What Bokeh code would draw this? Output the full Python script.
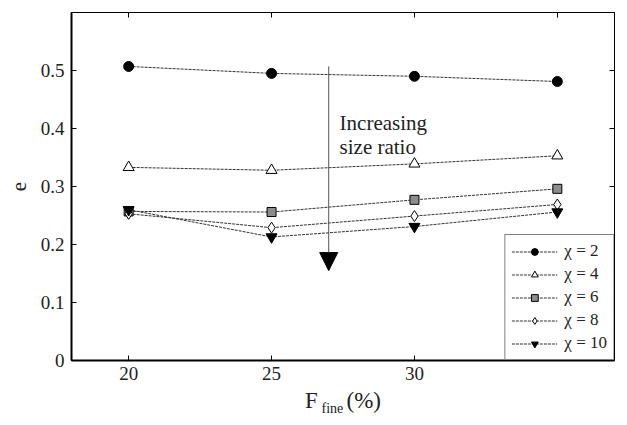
from bokeh.plotting import figure
from bokeh.models import (LinearAxis, FixedTicker, Legend, LegendItem, Label,
                          Arrow, NormalHead, Title)
from bokeh.embed import file_html
from bokeh.resources import INLINE

# ---- data ----
F_fine = [20, 25, 30, 35]
e_chi2 = [0.507, 0.495, 0.490, 0.481]
e_chi4 = [0.333, 0.328, 0.339, 0.353]
e_chi6 = [0.257, 0.256, 0.277, 0.296]
e_chi8 = [0.253, 0.229, 0.249, 0.269]
e_chi10 = [0.260, 0.213, 0.231, 0.256]
series_labels = ["χ = 2", "χ = 4", "χ = 6", "χ = 8", "χ = 10"]
x_ticks = [20, 25, 30, 35]
x_tick_labels = ["20", "25", "30", ""]   # "35" is hidden behind the legend
y_ticks = [0, 0.1, 0.2, 0.3, 0.4, 0.5]
y_tick_labels = ["0", "0.1", "0.2", "0.3", "0.4", "0.5"]
x_label_main = "F\u00a0\u00a0\u00a0\u00a0\u00a0(%)"
x_label_sub = "fine"
y_label = "e"
arrow_x = 27
arrow_y_start = 0.507
arrow_y_end = 0.155
annot_lines = ["Increasing", "size ratio"]

SERIF = "Liberation Serif"
TXT = "#222222"

p = figure(width=619, height=417, x_range=(18, 37), y_range=(0, 0.6),
           output_backend="svg", toolbar_location=None,
           min_border_left=71, min_border_right=5, min_border_top=12,
           min_border_bottom=57)
p.xgrid.visible = False
p.ygrid.visible = False
p.outline_line_color = "black"
p.outline_line_width = 1
p.background_fill_color = "white"
p.border_fill_color = "white"

def style_axis(ax, ticks, width, labels=None):
    ax.ticker = FixedTicker(ticks=ticks)
    ax.major_tick_in = 5
    ax.major_tick_out = 0
    ax.minor_tick_in = 0
    ax.minor_tick_out = 0
    ax.axis_line_color = "black"
    ax.axis_line_width = width
    ax.major_tick_line_color = "black"
    ax.major_label_text_font = SERIF
    ax.major_label_text_color = TXT
    ax.major_label_text_font_size = "19px"
    if labels is None:
        labels = [""] * len(ticks)
        ax.major_label_standoff = 0
    ax.major_label_overrides = {t: l for t, l in zip(ticks, labels)}

style_axis(p.xaxis[0], x_ticks, 2, x_tick_labels)
p.xaxis[0].major_label_standoff = 6
p.xaxis[0].axis_label = x_label_main
p.xaxis[0].axis_label_text_font = SERIF
p.xaxis[0].axis_label_text_font_style = "normal"
p.xaxis[0].axis_label_text_font_size = "23px"
p.xaxis[0].axis_label_text_color = TXT
p.xaxis[0].axis_label_standoff = 5

style_axis(p.yaxis[0], y_ticks, 2, y_tick_labels)
p.yaxis[0].major_label_standoff = 7
p.yaxis[0].axis_label = y_label
p.yaxis[0].axis_label_text_font = SERIF
p.yaxis[0].axis_label_text_font_style = "normal"
p.yaxis[0].axis_label_text_font_size = "21px"
p.yaxis[0].axis_label_text_color = TXT
p.yaxis[0].axis_label_standoff = 12

top_ax = LinearAxis()
style_axis(top_ax, x_ticks, 1)
p.add_layout(top_ax, "above")
right_ax = LinearAxis()
style_axis(right_ax, y_ticks, 1)
p.add_layout(right_ax, "right")

# subscript of the x-axis label (negative standoff pulls it up beside "F")
sub = Title(text=x_label_sub, align="left", vertical_align="top", offset=250,
            standoff=-30, text_font=SERIF, text_font_size="14px",
            text_font_style="normal", text_color=TXT)
p.add_layout(sub, "below")

line_kw = dict(line_color="#333333", line_width=1, line_dash="3 1")
series = [
    (e_chi2, dict(marker="circle", size=10, fill_color="black", line_color="black")),
    (e_chi4, dict(marker="triangle", size=11, fill_color="white", line_color="black")),
    (e_chi6, dict(marker="square", size=9, fill_color="#8c8c8c", line_color="black")),
    (e_chi8, dict(marker="diamond", size=11, fill_color="white", line_color="black")),
    (e_chi10, dict(marker="inverted_triangle", size=11, fill_color="black", line_color="black")),
]
items = []
for (vals, mk), lab in zip(series, series_labels):
    l = p.line(F_fine, vals, **line_kw)
    s = p.scatter(F_fine, vals, line_width=1, **mk)
    items.append(LegendItem(label=lab, renderers=[l, s]))

legend = Legend(items=items, location="bottom_right")
legend.label_text_font = SERIF
legend.label_text_font_size = "17px"
legend.label_text_color = TXT
legend.glyph_width = 46
legend.glyph_height = 17
legend.label_height = 17
legend.label_standoff = 7
legend.spacing = 3
legend.padding = 6
legend.margin = 0
legend.border_line_color = "black"
legend.border_line_width = 1.5
legend.background_fill_color = "white"
legend.background_fill_alpha = 1
p.add_layout(legend, "center")

arrow = Arrow(end=NormalHead(size=18, fill_color="black", line_color="black"),
              x_start=arrow_x, y_start=arrow_y_start, x_end=arrow_x, y_end=arrow_y_end,
              line_color="#555555", line_width=1)
p.add_layout(arrow)

p.add_layout(Label(x=27.38, y=0.409, text=annot_lines[0], text_font=SERIF,
                   text_font_size="21px", text_color=TXT, text_baseline="alphabetic"))
p.add_layout(Label(x=27.38, y=0.368, text=annot_lines[1], text_font=SERIF,
                   text_font_size="21px", text_color=TXT, text_baseline="alphabetic"))

open("out.html", "w").write(file_html(p, INLINE))
